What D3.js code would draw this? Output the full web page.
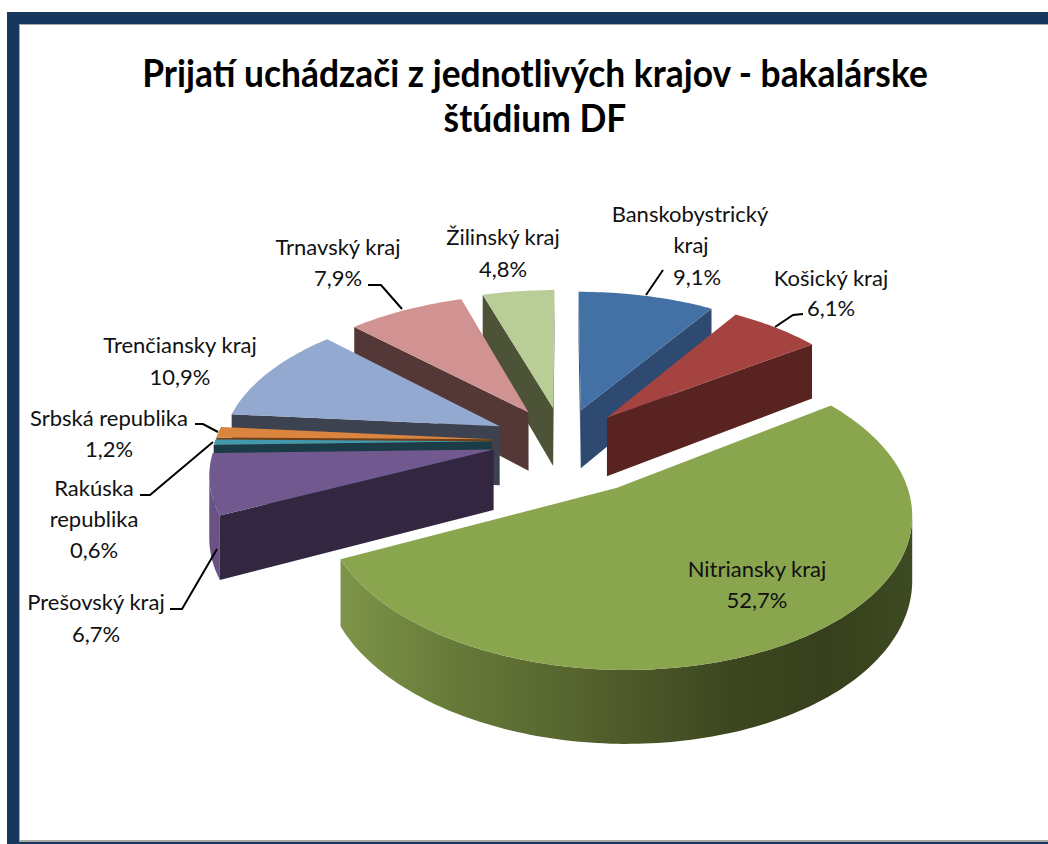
<!DOCTYPE html>
<html>
<head>
<meta charset="utf-8">
<script src="https://cdn.jsdelivr.net/npm/d3@7/dist/d3.min.js"></script>
<style>
html,body{margin:0;padding:0;background:#fff;}
svg{display:block;}
text{font-family:Lato,"Open Sans",sans-serif;fill:#111;}
</style>
</head>
<body>
<svg id="c" width="1048" height="844"></svg>
<script>
// ---- data ----
const categories = ["Banskobystrický kraj","Košický kraj","Nitriansky kraj","Prešovský kraj","Rakúska republika","Srbská republika","Trenčiansky kraj","Trnavský kraj","Žilinský kraj"];
const values = [9.1,6.1,52.7,6.7,0.6,1.2,10.9,7.9,4.8];
const topColors = ["#4371a6","#a54340","#89a54e","#71588f","#4198af","#db843d","#93a9cf","#d19392","#b9cd96"];
const wallColors = ["#2e4a70","#582321","#3a451f","#332640","#1b3b46","#6f3f15","#3c4250","#543838","#4d5336"];
const outerColors = ["#2e4a70","#582321","url(#nitra)","#6a5285","#2f7080","#a8622a","#6d7f9e","#9c6d6c","#8a9a70"];
const explode = [0.23,0.23,0.36,0.25,0.25,0.25,0.25,0.24,0.24];
const radii = [1,1,0.98,0.98,0.98,0.98,0.98,0.99,1];
const drawOrder = [0,1,8,7,6,5,4,3,2];
const titleLines = ["Prijatí uchádzači z jednotlivých krajov - bakalárske","štúdium DF"];

// label layout (text, centre x, baseline y)
const labelLines = [
 ["Banskobystrický",690,222],["kraj",691,253],["9,1%",697,285],
 ["Košický kraj",831,286],["6,1%",831,316],
 ["Žilinský kraj",503,245],["4,8%",503,277],
 ["Trnavský kraj",338,255],["7,9%",338,286],
 ["Trenčiansky kraj",180,353],["10,9%",180,385],
 ["Srbská republika",109,426],["1,2%",109,457],
 ["Rakúska",94,496],["republika",94,527],["0,6%",94,558],
 ["Prešovský kraj",96,610],["6,7%",96,642],
 ["Nitriansky kraj",757,577],["52,7%",757,608]
];
const leaders = [
 [[646,295],[663,270]],
 [[775,327],[793,315],[803,314]],
 [[402,309],[381,285],[368,285]],
 [[195,424],[203,424],[218,432]],
 [[140,495],[150,495],[213,442]],
 [[170,609],[182,609],[217,549]]
];

// ---- projection ----
const svg = d3.select("#c");
const W = 1048, H = 844;
const xScale = d3.scaleLinear().domain([-1,1]).range([563-283,563+283]);
const yScale = d3.scaleLinear().domain([-1,1]).range([441+144,441-144]);
const persp = 0.146, depth = 60;
function project(X,Y,z){
  const s = 1/(1+persp*Y);
  return [xScale(X*s), yScale(Y*s)+z*depth*s];
}

// ---- frame ----
const navy = "#17375e", grey = "#a8a8a8";
svg.append("rect").attr("x",7).attr("y",12).attr("width",W-7).attr("height",12).attr("fill",navy);
svg.append("rect").attr("x",7).attr("y",12).attr("width",12).attr("height",H-12).attr("fill",navy);
svg.append("rect").attr("x",19).attr("y",24).attr("width",W-19).attr("height",1).attr("fill",grey);
svg.append("rect").attr("x",19).attr("y",24).attr("width",1).attr("height",H-24).attr("fill",grey);
svg.append("rect").attr("x",19).attr("y",840).attr("width",W-19).attr("height",2).attr("fill",grey);
svg.append("rect").attr("x",19).attr("y",842).attr("width",W-19).attr("height",2).attr("fill",navy);

// Nitra wall gradient
const g = svg.append("defs").append("linearGradient").attr("id","nitra")
  .attr("gradientUnits","userSpaceOnUse").attr("x1",343).attr("x2",912).attr("y1",0).attr("y2",0);
[[0,"#7d9348"],[0.2,"#667a38"],[0.45,"#525f2c"],[0.68,"#3c4720"],[0.85,"#36401c"],[1,"#3d4a22"]]
  .forEach(d=>g.append("stop").attr("offset",d[0]).attr("stop-color",d[1]));

// ---- slices ----
const pie = d3.pie().sort(null).value(d=>d)(values);
const line = d3.line();
const chart = svg.append("g");

function sliceGeom(i){
  const a = pie[i], mid=(a.startAngle+a.endAngle)/2, e=explode[i], r=radii[i];
  const ox=e*Math.sin(mid), oy=e*Math.cos(mid);
  const n=Math.max(6,Math.ceil((a.endAngle-a.startAngle)/0.02));
  const angles=d3.range(n+1).map(k=>a.startAngle+(a.endAngle-a.startAngle)*k/n);
  const at=(t,z)=>project(ox+r*Math.sin(t),oy+r*Math.cos(t),z);
  return {ox,oy,angles,at,apex:z=>project(ox,oy,z),a};
}

drawOrder.forEach(i=>{
  const s=sliceGeom(i);
  const G=chart.append("g");
  const A0=s.apex(0),A1=s.apex(1);
  const P0=s.at(s.a.startAngle,0),P1=s.at(s.a.endAngle,0);
  if(P0[0]<A0[0]){
    G.append("path").attr("d",line([A0,P0,s.at(s.a.startAngle,1),A1])+"Z").attr("fill",wallColors[i]);
  }
  if(P1[0]>A0[0]){
    G.append("path").attr("d",line([A0,P1,s.at(s.a.endAngle,1),A1])+"Z").attr("fill",wallColors[i]);
  }
  // outer wall: only angles where the rim runs right-to-left on screen
  const vis=s.angles.filter((t,k)=>k<s.angles.length-1 && s.at(s.angles[k+1],0)[0]<s.at(t,0)[0]);
  if(vis.length){
    const last=s.angles[s.angles.indexOf(vis[vis.length-1])+1];
    const rim=vis.concat([last]);
    const pts=rim.map(t=>s.at(t,0)).concat(rim.slice().reverse().map(t=>s.at(t,1)));
    G.append("path").attr("d",line(pts)+"Z").attr("fill",outerColors[i]);
  }
  // top face
  const top=[A0].concat(s.angles.map(t=>s.at(t,0)));
  G.append("path").attr("d",line(top)+"Z").attr("fill",topColors[i]);
});

// ---- leaders ----
svg.append("g").selectAll("path").data(leaders).join("path")
  .attr("d",d=>line(d)).attr("fill","none").attr("stroke","#000").attr("stroke-width",2);

// ---- labels ----
svg.append("g").selectAll("text").data(labelLines).join("text")
  .attr("x",d=>d[1]).attr("y",d=>d[2]).attr("text-anchor","middle")
  .attr("font-size",22).text(d=>d[0]);

// ---- title ----
svg.append("g").attr("transform","translate(535,0) scale(0.931,1)").selectAll("text").data(titleLines).join("text")
  .attr("x",0).attr("y",(d,i)=>87+i*45).attr("text-anchor","middle")
  .attr("font-size",38).attr("font-weight",700).style("fill","#000").text(d=>d);
</script>
</body>
</html>
